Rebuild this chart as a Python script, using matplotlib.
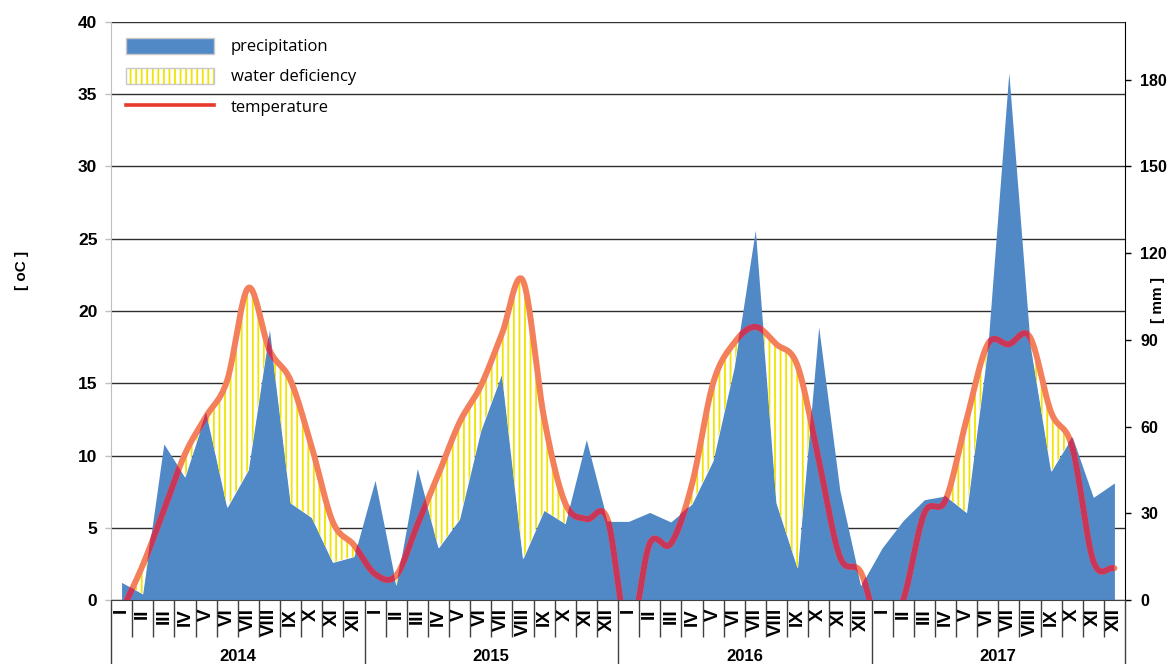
import numpy as np
import matplotlib
matplotlib.use("Agg")
import matplotlib.pyplot as plt
from matplotlib.patches import Patch
from matplotlib.lines import Line2D

# ---------------- data ----------------
years = ["2014", "2015", "2016", "2017"]
months = ["I", "II", "III", "IV", "V", "VI", "VII", "VIII", "IX", "X", "XI", "XII"]

# monthly mean temperature [oC]
temp_2014 = [-0.8, 2.4, 6.2, 10.1, 12.7, 15.2, 21.6, 17.3, 15.2, 10.6, 5.4, 3.8]
temp_2015 = [1.8, 1.7, 5.2, 8.7, 12.3, 14.8, 18.4, 22.1, 12.6, 6.7, 5.6, 5.6]
temp_2016 = [-2.5, 3.9, 3.9, 8.0, 15.0, 17.8, 18.9, 17.7, 16.2, 9.7, 3.0, 1.9]
temp_2017 = [-2.5, 0.0, 6.0, 6.9, 12.5, 17.7, 17.7, 18.2, 13.0, 10.6, 2.7, 2.2]

# monthly precipitation [mm]
prec_2014 = [6.1, 2.1, 54.0, 42.5, 65.0, 32.0, 45.0, 93.5, 33.5, 28.5, 13.0, 15.0]
prec_2015 = [41.4, 5.0, 45.5, 18.0, 28.0, 58.5, 78.3, 14.2, 31.0, 26.4, 55.5, 27.2]
prec_2016 = [27.2, 30.3, 27.0, 33.2, 48.2, 80.5, 128.0, 33.5, 11.0, 94.5, 38.0, 5.0]
prec_2017 = [18.0, 27.5, 34.7, 36.0, 30.2, 87.0, 182.5, 89.5, 44.5, 56.5, 35.5, 40.5]

left_ticks = [0, 5, 10, 15, 20, 25, 30, 35, 40]
right_ticks = [0, 30, 60, 90, 120, 150, 180]
MM_PER_DEG = 5.0

# ---------------- prep ----------------
temp = np.array(temp_2014 + temp_2015 + temp_2016 + temp_2017, dtype=float)
prec = np.array(prec_2014 + prec_2015 + prec_2016 + prec_2017, dtype=float)
n = len(temp)
xc = np.arange(n) + 0.5


def smooth_curve(x, y, steps=60):
    """Cardinal (Catmull-Rom) spline through the data points, like a smoothed line."""
    m = np.empty_like(y)
    m[1:-1] = (y[2:] - y[:-2]) / 2.0
    m[0] = y[1] - y[0]
    m[-1] = y[-1] - y[-2]
    t = np.linspace(0, 1, steps, endpoint=False)
    h00 = 2 * t**3 - 3 * t**2 + 1
    h10 = t**3 - 2 * t**2 + t
    h01 = -2 * t**3 + 3 * t**2
    h11 = t**3 - t**2
    xs, ys = [], []
    for i in range(len(y) - 1):
        xs.append(x[i] + t * (x[i + 1] - x[i]))
        ys.append(h00 * y[i] + h10 * m[i] + h01 * y[i + 1] + h11 * m[i + 1])
    xs.append([x[-1]])
    ys.append([y[-1]])
    return np.concatenate(xs), np.concatenate(ys)


xs, ts = smooth_curve(xc, temp)
ps = np.interp(xs, xc, prec / MM_PER_DEG)

# ---------------- figure ----------------
plt.rcParams["hatch.linewidth"] = 1.3
W, H = 1173, 664
fig = plt.figure(figsize=(W / 100, H / 100), dpi=100)
ax = fig.add_axes([111 / W, 64 / H, 1014 / W, 578 / H])

BLUE = "#5189C7"
YELLOW = "#F0E400"
ORANGE = "#F47F5B"
CRIMSON = "#C8375A"

area = ax.fill_between(xc, 0, prec / MM_PER_DEG, color=BLUE, lw=0, zorder=1.5)
ax.fill_between(xs, ps, ts, where=ts > ps, interpolate=True,
                facecolor="white", edgecolor=YELLOW, hatch="|||", lw=0, zorder=2)
ax.plot(xs, ts, color=ORANGE, lw=4.3, zorder=3, solid_capstyle="round")
# same curve, darker where it lies over the precipitation area
inner, = ax.plot(xs, ts, color=CRIMSON, lw=4.3, zorder=3.1, solid_capstyle="round")
inner.set_clip_path(area.get_paths()[0], ax.transData)

ax.set_xlim(0, n)
ax.set_ylim(0, 40)
ax.set_yticks(left_ticks)
ax.grid(axis="y", color="#2E2E2E", lw=1.0)
ax.set_axisbelow(True)

for s in ["top", "right"]:
    ax.spines[s].set_visible(False)
ax.spines["left"].set_color("#BFBFBF")
ax.spines["bottom"].set_color("#404040")

ax.tick_params(axis="y", direction="out", length=4.3, width=1, color="#BFBFBF",
               pad=5.5, labelsize=12.5)
for lab in ax.get_yticklabels():
    lab.set_fontweight("bold")
    lab.set_fontfamily("Liberation Sans")

# x axis: month separators and year separators
ax.set_xticks(np.arange(0, n + 1, 12))
ax.set_xticks(np.arange(0, n + 1), minor=True)
ax.tick_params(axis="x", which="major", direction="out", length=48, width=1,
               color="#404040", labelbottom=False)
ax.tick_params(axis="x", which="minor", direction="out", length=26.6, width=1,
               color="#404040", labelbottom=False)

trans = ax.get_xaxis_transform()
for i in range(n):
    ax.text(xc[i], -0.014, months[i % 12], transform=trans, rotation=90,
            ha="center", va="top", fontsize=13.5, fontweight="bold",
            family=["Liberation Sans Narrow", "Liberation Sans"])
for k, yr in enumerate(years):
    ax.text(12 * k + 6, -0.0986, yr, transform=trans, ha="center", va="center",
            fontsize=12, fontweight="bold", family="Liberation Sans")

# right axis in mm
sec = ax.secondary_yaxis("right", functions=(lambda t: t * MM_PER_DEG,
                                             lambda m: m / MM_PER_DEG))
sec.set_yticks(right_ticks)
sec.spines["right"].set_color("black")
sec.tick_params(direction="out", length=4, width=1, color="black", pad=7,
                labelsize=11.5)
for lab in sec.get_yticklabels():
    lab.set_fontweight("bold")
    lab.set_fontfamily("Liberation Sans")

fig.text(22 / W, 1 - 270 / H, "[ oC ]", rotation=90, ha="center", va="center",
         fontsize=11, fontweight="bold", family="Liberation Sans")
fig.text(1158 / W, 1 - 300 / H, "[ mm ]", rotation=90, ha="center", va="center",
         fontsize=11, fontweight="bold", family="Liberation Sans")

# legend
h_prec = Patch(facecolor=BLUE, edgecolor="#C8C8C8", lw=1.0)
h_def_fill = Patch(facecolor="white", edgecolor=YELLOW, hatch="|||", lw=0)
h_def_edge = Patch(facecolor="none", edgecolor="#C8C8C8", lw=1.0)
h_temp = Line2D([], [], color="#E8392A", lw=2.6)
leg = ax.legend([h_prec, (h_def_fill, h_def_edge), h_temp],
                ["precipitation", "water deficiency", "temperature"],
                loc="upper left", bbox_to_anchor=(0.0148, 0.973),
                borderaxespad=0, borderpad=0, frameon=False,
                handlelength=5.3, handleheight=1.1, handletextpad=1.0,
                labelspacing=0.75, prop={"family": "Open Sans", "size": 12})
leg.set_zorder(5)

fig.savefig("out.png", dpi=100)
